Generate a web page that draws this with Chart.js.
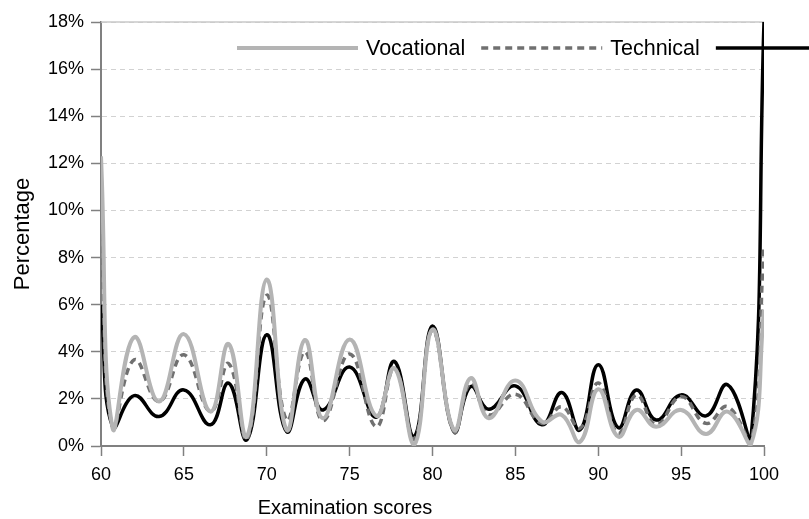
<!DOCTYPE html>
<html>
<head>
<meta charset="utf-8">
<script src="https://cdn.jsdelivr.net/npm/chart.js@4"></script>
<style>
  html, body { margin: 0; padding: 0; background: #fff; }
  #wrap { position: relative; width: 809px; height: 519px; }
</style>
</head>
<body>
<div id="wrap"><canvas id="chart"></canvas></div>
<script>
// scores where the curves turn (peaks and troughs)
var scores = [60, 60.7, 62, 63.5, 65, 66.6, 67.7, 68.8, 70, 71.2, 72.3, 73.4, 75, 76.6, 77.7, 78.9,
              80, 81.3, 82.3, 83.4, 85, 86.6, 87.8, 88.9, 90, 91.2, 92.3, 93.5, 95, 96.5, 97.8, 99.2, 100];

var vocational = [12.3, 0.75, 4.62, 1.89, 4.75, 1.46, 4.33, 0.4, 7.07, 0.68, 4.5, 1.18, 4.52, 1.28, 3.3, 0.05,
                  4.95, 0.68, 2.88, 1.18, 2.78, 1.04, 1.32, 0.18, 2.41, 0.4, 1.53, 0.82, 1.53, 0.51, 1.46, 0.05, 5.8];

var technical = [9.0, 0.8, 3.66, 1.89, 3.87, 1.46, 3.5, 0.26, 6.4, 1.1, 4.0, 1.08, 3.91, 0.82, 3.3, 0.3,
                 4.9, 0.6, 2.67, 1.32, 2.2, 0.96, 1.67, 0.75, 2.67, 0.54, 2.17, 0.9, 2.1, 0.96, 1.67, 0.11, 8.5];

var academic = [6.0, 0.82, 2.14, 1.25, 2.38, 0.9, 2.67, 0.26, 4.72, 0.61, 2.84, 1.53, 3.35, 1.22, 3.59, 0.4,
                5.09, 0.61, 2.52, 1.56, 2.55, 0.9, 2.27, 0.68, 3.45, 0.78, 2.38, 1.1, 2.17, 1.28, 2.6, 0.18, 18];

var xTicks = [60, 65, 70, 75, 80, 85, 90, 95, 100];
var yTicks = [0, 2, 4, 6, 8, 10, 12, 14, 16, 18];

var FONT = "'Liberation Sans', Arial, sans-serif";

function pts(values) {
    return scores.map(function (s, i) { return { x: s, y: values[i] }; });
}

// legend drawn inside the plot, Excel style (line then label)
var insideLegend = {
    id: "insideLegend",
    afterDraw: function (chart) {
        var ctx = chart.ctx;
        var x = 237, y = 48;
        ctx.save();
        ctx.font = "21.5px " + FONT;
        ctx.textBaseline = "middle";
        ctx.fillStyle = "#000";
        chart.data.datasets.forEach(function (ds) {
            ctx.beginPath();
            ctx.setLineDash(ds.borderDash || []);
            ctx.lineWidth = ds.borderWidth;
            ctx.strokeStyle = ds.borderColor;
            ctx.moveTo(x, y);
            ctx.lineTo(x + 121, y);
            ctx.stroke();
            ctx.setLineDash([]);
            ctx.fillText(ds.label, x + 129, y + 1);
            x += 129 + ctx.measureText(ds.label).width + 16;
        });
        ctx.restore();
    }
};

// solid top frame line + x axis title (sits left of centre in the original)
var frameAndTitle = {
    id: "frameAndTitle",
    beforeDatasetsDraw: function (chart) {
        var a = chart.chartArea, ctx = chart.ctx;
        ctx.save();
        ctx.strokeStyle = "#c8c8c8";
        ctx.lineWidth = 1.5;
        ctx.beginPath();
        ctx.moveTo(a.left, a.top);
        ctx.lineTo(a.right, a.top);
        ctx.stroke();
        ctx.restore();
    },
    afterDraw: function (chart) {
        var ctx = chart.ctx;
        ctx.save();
        ctx.font = "20px " + FONT;
        ctx.fillStyle = "#000";
        ctx.textAlign = "center";
        ctx.textBaseline = "middle";
        ctx.fillText("Examination scores", 345, 508);
        ctx.restore();
    }
};

var ctx1 = document.getElementById("chart").getContext("2d");

new Chart(ctx1, {
    type: "line",
    data: {
        datasets: [{
            label: "Vocational",
            data: pts(vocational),
            borderColor: "#b4b4b4",
            borderWidth: 4,
        }, {
            label: "Technical",
            data: pts(technical),
            borderColor: "#707070",
            borderWidth: 3.5,
            borderDash: [7, 5],
        }, {
            label: "Academic",
            data: pts(academic),
            borderColor: "#000000",
            borderWidth: 3.5,
        }],
    },
    options: {
        responsive: true,
        maintainAspectRatio: false,
        animation: false,
        layout: {
            padding: { top: 22, right: 45, left: 0, bottom: 0 }
        },
        elements: {
            point: { radius: 0 },
            line: { tension: 0.45, fill: false, borderJoinStyle: "round" }
        },
        plugins: {
            legend: { display: false },
            tooltip: { enabled: false }
        },
        scales: {
            x: {
                type: "linear",
                min: 60,
                max: 100,
                afterBuildTicks: function (scale) {
                    scale.ticks = xTicks.map(function (v) { return { value: v }; });
                },
                afterFit: function (scale) { scale.height = 73; },
                grid: {
                    drawOnChartArea: false,
                    drawTicks: true,
                    tickLength: 10,
                    tickColor: "#808080",
                    tickWidth: 1.5,
                },
                border: { color: "#808080", width: 2 },
                ticks: {
                    color: "#000",
                    padding: 8,
                    maxRotation: 0,
                    font: { size: 18, family: FONT },
                },
            },
            y: {
                min: 0,
                max: 18,
                afterBuildTicks: function (scale) {
                    scale.ticks = yTicks.map(function (v) { return { value: v }; });
                },
                afterFit: function (scale) { scale.width = 101; },
                grid: {
                    color: "#d2d2d2",
                    lineWidth: 1,
                    drawTicks: true,
                    tickLength: 10,
                    tickColor: "#808080",
                    tickWidth: 1.5,
                },
                border: { color: "#808080", width: 2, dash: [5, 4] },
                ticks: {
                    color: "#000",
                    padding: 7,
                    font: { size: 18, family: FONT },
                    callback: function (v) { return v + "%"; }
                },
                title: {
                    display: true,
                    text: "Percentage",
                    color: "#000",
                    padding: { top: 10, bottom: 0 },
                    font: { size: 22, family: FONT }
                }
            },
        },
    },
    plugins: [frameAndTitle, insideLegend]
});
</script>
</body>
</html>
